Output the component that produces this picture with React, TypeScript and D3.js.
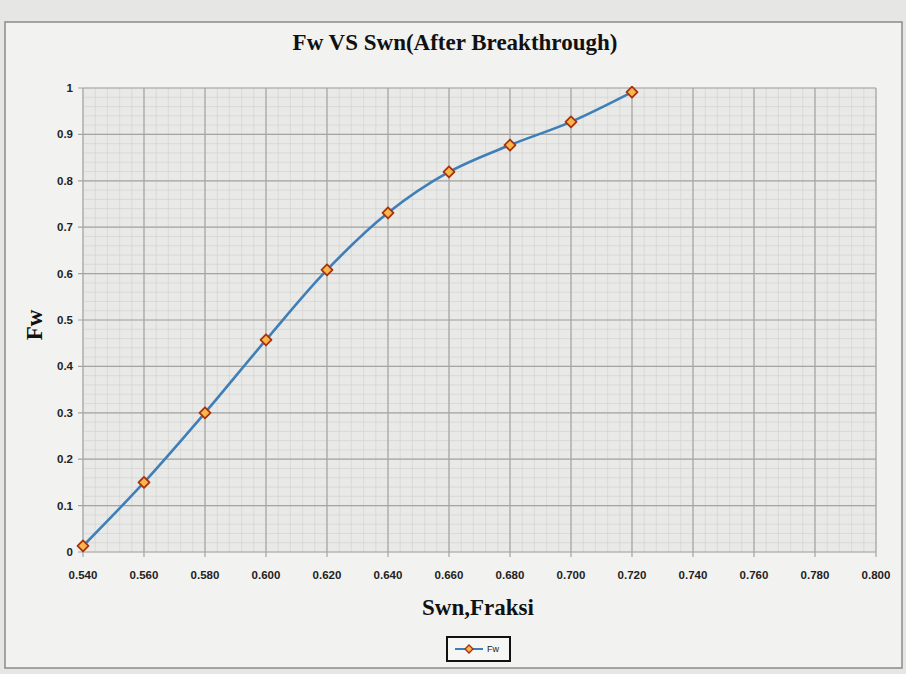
import { useMemo } from 'react';
import * as d3 from 'd3';

const swn = [0.54, 0.56, 0.58, 0.6, 0.62, 0.64, 0.66, 0.68, 0.7, 0.72];
const fw = [0.013, 0.15, 0.3, 0.457, 0.608, 0.731, 0.819, 0.877, 0.927, 0.991];
const xTicks = [0.54, 0.56, 0.58, 0.6, 0.62, 0.64, 0.66, 0.68, 0.7, 0.72, 0.74, 0.76, 0.78, 0.8];
const yTicks = [0, 0.1, 0.2, 0.3, 0.4, 0.5, 0.6, 0.7, 0.8, 0.9, 1];
const seriesName = 'Fw';

const W = 906;
const H = 674;
const plot = { left: 83, right: 876, top: 88, bottom: 552 };

const App = () => {
    const x = d3.scaleLinear().domain([0.54, 0.8]).range([plot.left, plot.right]);
    const y = d3.scaleLinear().domain([0, 1]).range([plot.bottom, plot.top]);

    const minorX = useMemo(() => d3.range(0, 66).map(i => 0.54 + i * 0.004), []);
    const minorY = useMemo(() => d3.range(0, 51).map(i => i * 0.02), []);

    const pts: [number, number][] = swn.map((s, i) => [s, fw[i]]);
    const path = d3.line<[number, number]>()
        .x(d => x(d[0]))
        .y(d => y(d[1]))
        .curve(d3.curveCatmullRom.alpha(0.5))(pts);

    const diamond = (cx: number, cy: number, r: number) =>
        `M${cx},${cy - r}L${cx + r},${cy}L${cx},${cy + r}L${cx - r},${cy}Z`;

    const tickFont = '"Liberation Sans", Arial, sans-serif';
    const serif = '"Liberation Serif", "Times New Roman", serif';

    return (
        <svg width={W} height={H} style={{ position: 'absolute', left: 0, top: 0 }}>
            <rect x={0} y={0} width={W} height={H} fill="#e6e6e4" />
            <rect x={5} y={22} width={897} height={646} fill="#f2f2f1" stroke="#8a8a8a" strokeWidth={1.5} />

            <text x={455} y={50} textAnchor="middle" fontFamily={serif} fontWeight="bold" fontSize={23} fill="#111">
                Fw VS Swn(After Breakthrough)
            </text>

            <rect x={plot.left} y={plot.top} width={plot.right - plot.left} height={plot.bottom - plot.top} fill="#e9e9e7" />

            {minorX.map((v, i) => (
                <line key={'mx' + i} x1={x(v)} x2={x(v)} y1={plot.top} y2={plot.bottom} stroke="#d6d6d4" strokeWidth={0.8} />
            ))}
            {minorY.map((v, i) => (
                <line key={'my' + i} x1={plot.left} x2={plot.right} y1={y(v)} y2={y(v)} stroke="#d6d6d4" strokeWidth={0.8} />
            ))}
            {xTicks.map(v => (
                <line key={'gx' + v} x1={x(v)} x2={x(v)} y1={plot.top} y2={plot.bottom + 5} stroke="#a4a4a2" strokeWidth={1.2} />
            ))}
            {yTicks.map(v => (
                <line key={'gy' + v} x1={plot.left - 5} x2={plot.right} y1={y(v)} y2={y(v)} stroke="#a4a4a2" strokeWidth={1.2} />
            ))}

            {yTicks.map(v => (
                <text key={'ty' + v} x={plot.left - 10} y={y(v) + 4} textAnchor="end" fontFamily={tickFont} fontWeight="bold" fontSize={11.5} fill="#222">
                    {d3.format('~g')(v)}
                </text>
            ))}
            {xTicks.map(v => (
                <text key={'tx' + v} x={x(v)} y={plot.bottom + 27} textAnchor="middle" fontFamily={tickFont} fontWeight="bold" fontSize={11.5} fill="#222">
                    {d3.format('.3f')(v)}
                </text>
            ))}

            <path d={path ?? ''} fill="none" stroke="#3f7fb8" strokeWidth={2.6} />
            {pts.map((p, i) => (
                <path key={'pt' + i} d={diamond(x(p[0]), y(p[1]), 5.5)} fill="#f7b74a" stroke="#a8320f" strokeWidth={1.8} strokeLinejoin="round" />
            ))}

            <text x={478} y={615} textAnchor="middle" fontFamily={serif} fontWeight="bold" fontSize={23} fill="#111">
                Swn,Fraksi
            </text>
            <text transform="translate(42,325) rotate(-90)" textAnchor="middle" fontFamily={serif} fontWeight="bold" fontSize={23} fill="#111">
                Fw
            </text>

            <rect x={447} y={637} width={63} height={24} fill="#f6f6f5" stroke="#111" strokeWidth={2} />
            <line x1={455} x2={483} y1={649} y2={649} stroke="#3f7fb8" strokeWidth={2} />
            <path d={diamond(469, 649, 4)} fill="#f7b74a" stroke="#a8320f" strokeWidth={1.4} />
            <text x={487} y={652} fontFamily={tickFont} fontSize={9} fill="#222">{seriesName}</text>
        </svg>
    );
};

export default App;
